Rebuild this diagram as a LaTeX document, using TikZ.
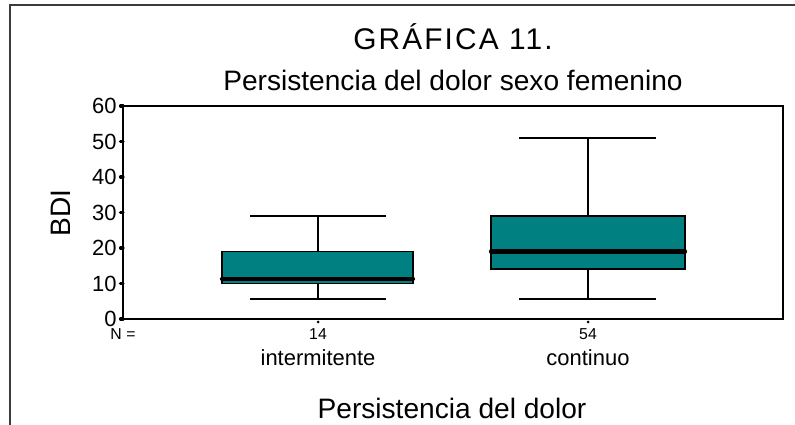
\documentclass[tikz,border=0pt]{standalone}
\usepackage{fontspec}
\setmainfont{Liberation Sans}
\definecolor{boxteal}{RGB}{0,128,128}
\definecolor{framegray}{RGB}{60,60,60}
\tikzset{
  axisline/.style={draw=black, line width=1.2pt},
  boxfill/.style={draw=black, fill=boxteal, line width=1pt},
  whisker/.style={draw=black, line width=0.9pt},
  medianline/.style={draw=black, line width=2.4pt, line cap=round},
  ticklabel/.style={anchor=east, inner sep=0pt, font=\fontsize{12.5}{14}\selectfont},
  catlabel/.style={inner sep=0pt, font=\fontsize{12.5}{14}\selectfont},
  countlabel/.style={inner sep=0pt, font=\fontsize{9}{10}\selectfont}
}
\begin{document}
\begin{tikzpicture}[x=0.02cm, y=-0.02cm]
		\useasboundingbox (0,0) rectangle (795,425);
		% outer frame (only top and left visible)
		\draw[draw=framegray, line width=1pt] (795,5) -- (10,5) -- (10,425);
		% titles
		\node[inner sep=0pt, font=\fontsize{17}{20}\selectfont\addfontfeatures{LetterSpace=7}] (title) at (453,37) {GRÁFICA 11.};
		\node[inner sep=0pt, font=\fontsize{16}{19}\selectfont] (subtitle) at (453,80) {Persistencia del dolor sexo femenino};
		% plot area
		\draw[axisline] (123,106) rectangle (783,319);
		\foreach \v in {0,10,...,60} {
			\draw[black, line width=1.8pt, line cap=round] (120.5,{319-3.55*\v}) -- (123,{319-3.55*\v});
			\node[ticklabel] (tick\v) at (117,{319-3.55*\v}) {\v};
		}
		\node[inner sep=0pt, rotate=90, font=\fontsize{16}{18}\selectfont] (ylab) at (61,213) {BDI};
		% box intermitente
		\draw[whisker] (318,{319-3.55*29}) -- (318,{319-3.55*19});
		\draw[whisker] (318,{319-3.55*10}) -- (318,{319-3.55*5.6});
		\draw[whisker] (250,{319-3.55*29}) -- (386,{319-3.55*29});
		\draw[whisker] (250,{319-3.55*5.6}) -- (386,{319-3.55*5.6});
		\draw[boxfill] (222,{319-3.55*19}) rectangle (413,{319-3.55*10});
		\draw[medianline] (222,{319-3.55*11.3}) -- (413,{319-3.55*11.3});
		% box continuo
		\draw[whisker] (588,{319-3.55*51}) -- (588,{319-3.55*29});
		\draw[whisker] (588,{319-3.55*14}) -- (588,{319-3.55*5.6});
		\draw[whisker] (519,{319-3.55*51}) -- (656,{319-3.55*51});
		\draw[whisker] (519,{319-3.55*5.6}) -- (656,{319-3.55*5.6});
		\draw[boxfill] (491,{319-3.55*29}) rectangle (685,{319-3.55*14});
		\draw[medianline] (491,{319-3.55*19}) -- (685,{319-3.55*19});
		% category ticks and labels
		\fill[black] (318,322) circle (1.5);
		\fill[black] (588,322) circle (1.5);
		\node[countlabel] (nlab) at (123,334) {N =};
		\node[countlabel] (n1) at (318,334) {14};
		\node[countlabel] (n2) at (588,334) {54};
		\node[catlabel] (cat1) at (318,358) {intermitente};
		\node[catlabel] (cat2) at (588,358) {continuo};
		\node[inner sep=0pt, font=\fontsize{16}{19}\selectfont] (xlab) at (452,408) {Persistencia del dolor};
	\end{tikzpicture}
\end{document}
